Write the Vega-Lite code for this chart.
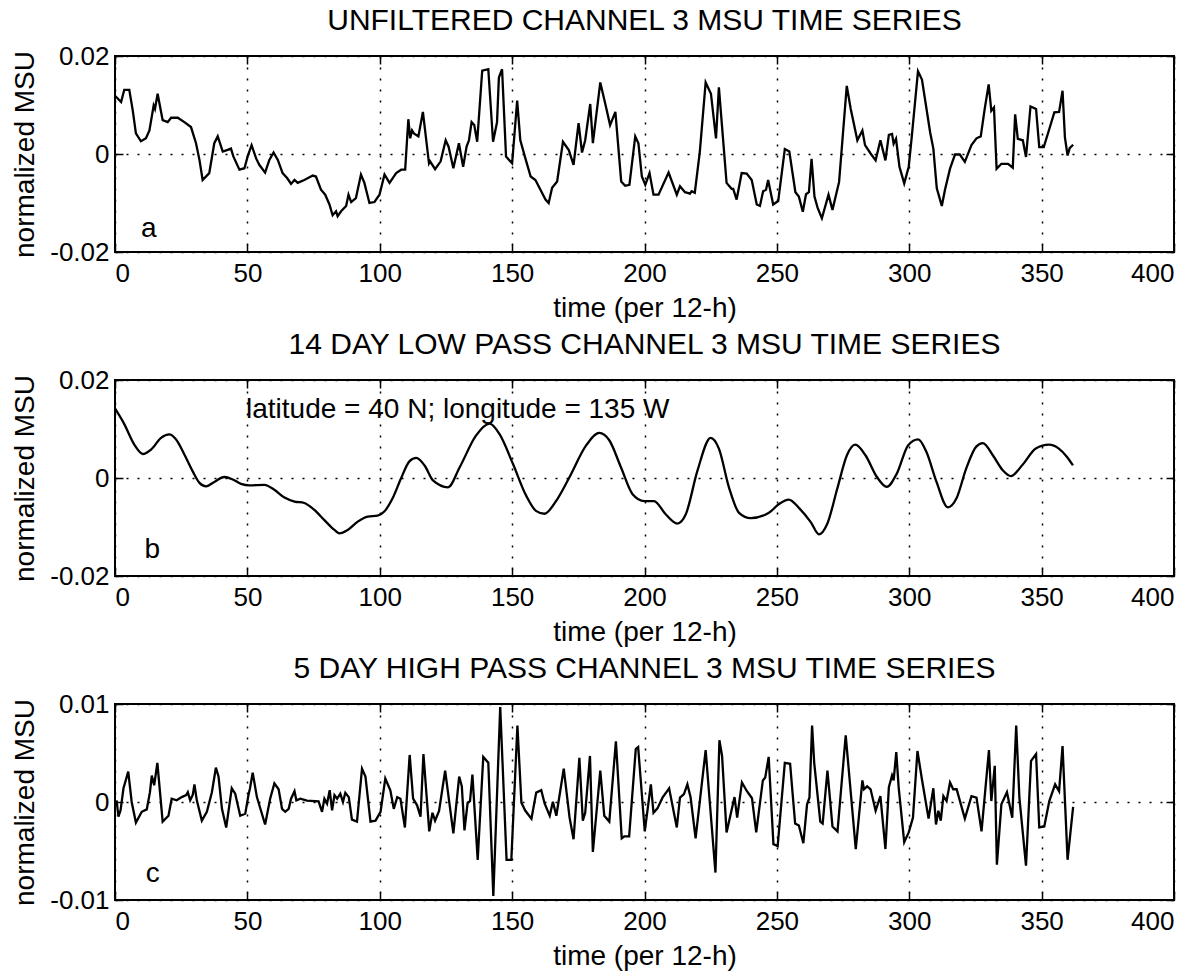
{
"$schema": "https://vega.github.io/schema/vega-lite/v6.json",
"background": "white",
"padding": {"left": 10, "top": 5, "right": 5, "bottom": 5},
"spacing": 128,
"bounds": "flush",
"config": {
  "font": "Liberation Sans",
  "view": {"stroke": "black", "strokeWidth": 2},
  "axis": {"domain": false, "grid": true, "gridColor": "black", "gridDash": [2, 9], "gridWidth": 1.5, "gridOpacity": 1,
           "tickColor": "black", "tickSize": -8, "tickWidth": 1.5, "labelColor": "black", "labelFont": "Liberation Sans",
           "labelFontSize": 26, "titleFont": "Liberation Sans", "titleFontSize": 28, "titleFontWeight": "normal", "titleColor": "black"},
  "axisX": {"labelPadding": 16, "titlePadding": 8},
  "axisY": {"labelPadding": 14, "titlePadding": 10},
  "title": {"font": "Liberation Sans", "fontSize": 30, "fontWeight": "normal", "color": "black", "offset": 7}
},
"datasets": {
"a": [
{"t":0,"v":0.0119},{"t":2.3,"v":0.0106},{"t":3.5,"v":0.0131},{"t":5.4,"v":0.0131},{"t":6.7,"v":0.0089},{"t":7.9,"v":0.0042},{"t":9.8,"v":0.0026},{"t":11.7,"v":0.0032},{"t":13,"v":0.0048},{"t":14.6,"v":0.0099},{"t":15.1,"v":0.0092},{"t":16.1,"v":0.0123},{"t":18,"v":0.0069},{"t":19.9,"v":0.0065},{"t":21.2,"v":0.0074},{"t":23.7,"v":0.0074},{"t":26.2,"v":0.0065},{"t":28.7,"v":0.0055},{"t":30.6,"v":0.0022},{"t":31.9,"v":-0.0012},{"t":33.1,"v":-0.0053},{"t":35.6,"v":-0.0039},{"t":37.5,"v":0.0022},{"t":38.8,"v":0.0036},{"t":40.7,"v":0.0005},{"t":42.3,"v":0.0008},{"t":43.8,"v":0.0011},{"t":44.7,"v":-0.0005},{"t":47,"v":-0.0032},{"t":48.9,"v":-0.0029},{"t":50.1,"v":-0.0005},{"t":51.6,"v":0.0018},{"t":53.3,"v":-0.0009},{"t":54.5,"v":-0.0022},{"t":56.7,"v":-0.0038},{"t":58.3,"v":-0.0012},{"t":59.9,"v":0.0003},{"t":61.5,"v":-0.0012},{"t":63.3,"v":-0.0039},{"t":65,"v":-0.0049},{"t":66.5,"v":-0.0061},{"t":67.8,"v":-0.0053},{"t":69,"v":-0.0059},{"t":71.5,"v":-0.0053},{"t":74.7,"v":-0.0044},{"t":75.9,"v":-0.0046},{"t":77.8,"v":-0.0073},{"t":79.4,"v":-0.0083},{"t":81,"v":-0.0103},{"t":82.2,"v":-0.0125},{"t":83.5,"v":-0.0117},{"t":84.1,"v":-0.0127},{"t":85.4,"v":-0.0117},{"t":87.3,"v":-0.0106},{"t":88.2,"v":-0.0083},{"t":89.2,"v":-0.0098},{"t":91,"v":-0.009},{"t":92.9,"v":-0.0042},{"t":94.2,"v":-0.0059},{"t":96.1,"v":-0.01},{"t":98,"v":-0.0098},{"t":99.9,"v":-0.0083},{"t":101.8,"v":-0.0042},{"t":103.7,"v":-0.0059},{"t":106.2,"v":-0.0039},{"t":108.1,"v":-0.0032},{"t":109.6,"v":-0.0032},{"t":110.8,"v":0.0071},{"t":111.5,"v":0.0032},{"t":112.2,"v":0.0048},{"t":112.9,"v":0.0042},{"t":114.6,"v":0.0036},{"t":116.3,"v":0.0086},{"t":118.6,"v":-0.0019},{"t":119,"v":-0.0015},{"t":120.9,"v":-0.0031},{"t":123,"v":-0.0015},{"t":124.9,"v":0.0028},{"t":126,"v":0.0015},{"t":127.8,"v":-0.0029},{"t":129.9,"v":0.0022},{"t":131.5,"v":-0.0026},{"t":132.8,"v":0.0015},{"t":133.7,"v":0.0028},{"t":134.7,"v":0.0065},{"t":135.7,"v":0.0059},{"t":136.8,"v":0.0025},{"t":138.7,"v":0.017},{"t":141,"v":0.0173},{"t":142.8,"v":0.0025},{"t":144.3,"v":0.0065},{"t":145,"v":0.0156},{"t":146.2,"v":0.0173},{"t":147.7,"v":-0.0005},{"t":150,"v":-0.0019},{"t":151.9,"v":0.0109},{"t":153.1,"v":0.0028},{"t":155,"v":-0.0009},{"t":157,"v":-0.0046},{"t":158.8,"v":-0.0053},{"t":160.7,"v":-0.0073},{"t":162.6,"v":-0.0093},{"t":163.8,"v":-0.01},{"t":165.1,"v":-0.0069},{"t":167,"v":-0.0056},{"t":169.2,"v":0.0025},{"t":171.4,"v":0.0008},{"t":173.2,"v":-0.0022},{"t":175.1,"v":0.0063},{"t":176.4,"v":0.0003},{"t":177.6,"v":0.0028},{"t":179.5,"v":0.0102},{"t":180.5,"v":0.0022},{"t":183.3,"v":0.0146},{"t":185.2,"v":0.0102},{"t":187,"v":0.0059},{"t":189,"v":0.0086},{"t":191.2,"v":-0.0056},{"t":192.7,"v":-0.0065},{"t":194.3,"v":-0.0063},{"t":196.5,"v":0.0036},{"t":197.7,"v":0.0022},{"t":199,"v":-0.0046},{"t":200.3,"v":-0.0063},{"t":201.9,"v":-0.0039},{"t":203.4,"v":-0.0083},{"t":205.3,"v":-0.0083},{"t":209.1,"v":-0.0038},{"t":212.2,"v":-0.0083},{"t":213.4,"v":-0.0066},{"t":215.3,"v":-0.0078},{"t":217.2,"v":-0.0081},{"t":217.8,"v":-0.0076},{"t":219,"v":-0.0079},{"t":220.9,"v":0.0005},{"t":223.1,"v":0.0146},{"t":225.1,"v":0.0123},{"t":227,"v":0.0032},{"t":228.1,"v":0.0136},{"t":231,"v":-0.0059},{"t":232.9,"v":-0.0071},{"t":233.5,"v":-0.0071},{"t":234.8,"v":-0.0093},{"t":236.7,"v":-0.0039},{"t":238.6,"v":-0.004},{"t":240.5,"v":-0.0053},{"t":242.4,"v":-0.0103},{"t":243.6,"v":-0.0106},{"t":244.8,"v":-0.0076},{"t":245.9,"v":-0.0073},{"t":246.7,"v":-0.0053},{"t":248.6,"v":-0.0103},{"t":250.5,"v":-0.0096},{"t":253,"v":0.001},{"t":254.7,"v":0.0005},{"t":257,"v":-0.0078},{"t":258.3,"v":-0.0087},{"t":259.8,"v":-0.0118},{"t":261,"v":-0.0082},{"t":262.1,"v":-0.0078},{"t":263.1,"v":-0.001},{"t":264.2,"v":-0.0087},{"t":265.4,"v":-0.011},{"t":267,"v":-0.0131},{"t":269.5,"v":-0.0083},{"t":271,"v":-0.0114},{"t":273.5,"v":-0.0057},{"t":274.8,"v":0.0031},{"t":276.4,"v":0.0139},{"t":277.9,"v":0.0092},{"t":280.4,"v":0.0028},{"t":282.3,"v":0.0048},{"t":283.3,"v":0.0018},{"t":285.4,"v":0.0001},{"t":287.3,"v":-0.0013},{"t":289.1,"v":0.0028},{"t":291,"v":-0.0013},{"t":292.3,"v":0.0039},{"t":293.5,"v":0.0041},{"t":294.1,"v":0.0021},{"t":295,"v":0.0031},{"t":296.3,"v":-0.0026},{"t":298.1,"v":-0.006},{"t":299.8,"v":-0.0026},{"t":301,"v":0.0038},{"t":303.3,"v":0.0169},{"t":304.8,"v":0.0152},{"t":307.9,"v":0.0044},{"t":309.1,"v":0.0011},{"t":310.4,"v":-0.007},{"t":312.3,"v":-0.0106},{"t":313.5,"v":-0.0073},{"t":315.4,"v":-0.003},{"t":317.3,"v":-0.0001},{"t":319.1,"v":-0.0001},{"t":321,"v":-0.0016},{"t":323.5,"v":0.0018},{"t":325.4,"v":0.0032},{"t":327,"v":0.0036},{"t":328.5,"v":0.0092},{"t":330,"v":0.0142},{"t":331,"v":0.0088},{"t":332,"v":0.0095},{"t":333,"v":-0.003},{"t":334.8,"v":-0.002},{"t":337.3,"v":-0.002},{"t":339.1,"v":-0.0028},{"t":340,"v":0.0081},{"t":341,"v":0.0031},{"t":342.9,"v":0.0028},{"t":344.1,"v":-0.0006},{"t":345.8,"v":0.0097},{"t":347.9,"v":0.0092},{"t":349.1,"v":0.0014},{"t":350.8,"v":0.0014},{"t":352.9,"v":0.0051},{"t":354.8,"v":0.0085},{"t":356.6,"v":0.0086},{"t":357.9,"v":0.0129},{"t":358.8,"v":0.0034},{"t":359.8,"v":-0.0003},{"t":360.6,"v":0.0012},{"t":361.9,"v":0.0019}
],
"b": [
{"t":0,"v":0.0142},{"t":3.5,"v":0.011},{"t":7.3,"v":0.0068},{"t":10.5,"v":0.0049},{"t":13.6,"v":0.0058},{"t":17.4,"v":0.0082},{"t":20.5,"v":0.0089},{"t":23,"v":0.0079},{"t":26.2,"v":0.0048},{"t":29.3,"v":0.0014},{"t":31.9,"v":-0.001},{"t":34.4,"v":-0.0017},{"t":37.5,"v":-0.0008},{"t":41.3,"v":0.0002},{"t":44.5,"v":-0.0003},{"t":47.6,"v":-0.0012},{"t":50.8,"v":-0.0015},{"t":56.4,"v":-0.0014},{"t":60.2,"v":-0.0024},{"t":64,"v":-0.004},{"t":67.8,"v":-0.0048},{"t":71.5,"v":-0.0051},{"t":75.3,"v":-0.0065},{"t":79.1,"v":-0.0086},{"t":82.9,"v":-0.0106},{"t":84.8,"v":-0.0113},{"t":87.9,"v":-0.0106},{"t":91.7,"v":-0.0089},{"t":95.5,"v":-0.0079},{"t":99.2,"v":-0.0077},{"t":101.8,"v":-0.0068},{"t":104.9,"v":-0.0041},{"t":108.1,"v":0.0},{"t":111.2,"v":0.0034},{"t":113.8,"v":0.0041},{"t":117,"v":0.0025},{"t":120.1,"v":-0.0005},{"t":125.8,"v":-0.0019},{"t":130.2,"v":0.0022},{"t":136.4,"v":0.0087},{"t":141.5,"v":0.0111},{"t":145.2,"v":0.009},{"t":150.3,"v":0.0029},{"t":155.3,"v":-0.0036},{"t":159,"v":-0.0067},{"t":162.2,"v":-0.0073},{"t":166.6,"v":-0.0047},{"t":171.6,"v":0.0001},{"t":177.9,"v":0.0066},{"t":182.9,"v":0.0092},{"t":186.7,"v":0.0077},{"t":191.1,"v":0.0022},{"t":195.5,"v":-0.0033},{"t":199.9,"v":-0.0047},{"t":203.6,"v":-0.0047},{"t":208,"v":-0.0074},{"t":212.4,"v":-0.0093},{"t":215.6,"v":-0.0074},{"t":220,"v":0.0015},{"t":225,"v":0.0082},{"t":228.1,"v":0.006},{"t":231.9,"v":-0.0019},{"t":235.7,"v":-0.0071},{"t":240.1,"v":-0.0082},{"t":247,"v":-0.0071},{"t":250.8,"v":-0.0053},{"t":254.5,"v":-0.0044},{"t":258.5,"v":-0.0062},{"t":262.8,"v":-0.009},{"t":265.9,"v":-0.0115},{"t":269,"v":-0.0094},{"t":272.8,"v":-0.0022},{"t":276.5,"v":0.0047},{"t":279.6,"v":0.0068},{"t":283.4,"v":0.0047},{"t":287.8,"v":0.0002},{"t":291.5,"v":-0.0018},{"t":295.3,"v":0.0009},{"t":299.6,"v":0.0067},{"t":303.4,"v":0.0079},{"t":306.5,"v":0.0053},{"t":310.3,"v":-0.0008},{"t":314.6,"v":-0.006},{"t":317.8,"v":-0.0042},{"t":321.5,"v":0.0019},{"t":325.3,"v":0.0064},{"t":327.8,"v":0.0071},{"t":331.5,"v":0.0047},{"t":335.3,"v":0.0016},{"t":338.4,"v":0.0004},{"t":342.8,"v":0.0027},{"t":347.8,"v":0.006},{"t":352.8,"v":0.0068},{"t":356.5,"v":0.006},{"t":359.6,"v":0.0043},{"t":361.8,"v":0.0026}
],
"c": [
{"t":0.6,"v":0.00017},{"t":1.3,"v":-0.0015},{"t":2.1,"v":-0.00085},{"t":3.2,"v":0.0014},{"t":5,"v":0.0031},{"t":6.3,"v":0},{"t":7.9,"v":-0.0021},{"t":10.1,"v":-0.001},{"t":12,"v":-0.00075},{"t":13.2,"v":0.001},{"t":13.9,"v":0.0027},{"t":14.8,"v":0.0017},{"t":16,"v":0.004},{"t":17,"v":0.001},{"t":18,"v":-0.002},{"t":20.2,"v":-0.0014},{"t":21.4,"v":0.00034},{"t":23.3,"v":0.00017},{"t":25.2,"v":0.0005},{"t":26.9,"v":0.0007},{"t":27.5,"v":0.001},{"t":28.4,"v":0.00017},{"t":29.4,"v":0.00075},{"t":30,"v":0.0018},{"t":30.9,"v":0.00017},{"t":32.8,"v":-0.0019},{"t":34.7,"v":-0.001},{"t":36.6,"v":0.001},{"t":38.1,"v":0.0035},{"t":39.1,"v":0.0026},{"t":40.4,"v":-0.0007},{"t":42,"v":-0.0026},{"t":44.1,"v":0.0014},{"t":45.4,"v":0.00085},{"t":47.3,"v":-0.0014},{"t":49.2,"v":-0.0012},{"t":50.4,"v":0.0007},{"t":51,"v":0.0014},{"t":52,"v":0.003},{"t":53.6,"v":0.0005},{"t":56.7,"v":-0.0023},{"t":58.6,"v":0.00034},{"t":60.2,"v":0.0019},{"t":61.8,"v":0.0013},{"t":63.1,"v":-0.0007},{"t":64.3,"v":-0.001},{"t":65.6,"v":-0.0007},{"t":66.5,"v":0.00034},{"t":67.8,"v":0.0011},{"t":68.5,"v":0.00017},{"t":70,"v":0.00034},{"t":72.5,"v":0.00014},{"t":76.9,"v":0.00007},{"t":78.2,"v":-0.001},{"t":79.1,"v":0.00034},{"t":80.1,"v":-0.00017},{"t":81.1,"v":0.0012},{"t":82,"v":-0.00085},{"t":82.9,"v":0.0007},{"t":83.9,"v":0.00034},{"t":85.1,"v":0.00085},{"t":86.1,"v":0},{"t":87,"v":0.00095},{"t":88.3,"v":0.0005},{"t":89.5,"v":-0.0018},{"t":91.4,"v":-0.002},{"t":93.3,"v":0.0034},{"t":94.6,"v":0.0026},{"t":96.5,"v":-0.002},{"t":98.4,"v":-0.0019},{"t":100.3,"v":-0.001},{"t":102.1,"v":0.0024},{"t":104,"v":0.0012},{"t":105.3,"v":-0.0007},{"t":106.6,"v":0.0005},{"t":107.8,"v":0.00034},{"t":109.5,"v":-0.0026},{"t":111.3,"v":0.0048},{"t":112.6,"v":0.00034},{"t":114.1,"v":-0.00034},{"t":115.4,"v":-0.0015},{"t":116.5,"v":0.0049},{"t":118.7,"v":-0.003},{"t":119.9,"v":-0.0011},{"t":120.9,"v":-0.0019},{"t":122.4,"v":-0.0009},{"t":124.7,"v":0.0032},{"t":127.8,"v":-0.0032},{"t":130,"v":0.0026},{"t":131,"v":0.0016},{"t":132,"v":-0.0029},{"t":133.2,"v":-0.00007},{"t":134.1,"v":0.0001},{"t":135,"v":0.0028},{"t":137,"v":-0.0059},{"t":139.1,"v":0.0046},{"t":141,"v":0.004},{"t":142.9,"v":-0.0096},{"t":145.5,"v":0.0097},{"t":147.9,"v":-0.0059},{"t":149.7,"v":-0.0059},{"t":152,"v":0.0078},{"t":153.5,"v":-0.00007},{"t":155,"v":-0.0009},{"t":157.3,"v":-0.0017},{"t":159.1,"v":0.00096},{"t":161,"v":0.0012},{"t":162.3,"v":-0.00017},{"t":164.2,"v":-0.0014},{"t":165.4,"v":0.00003},{"t":166.7,"v":-0.0014},{"t":169.5,"v":0.0034},{"t":171.7,"v":-0.0016},{"t":173.2,"v":-0.0038},{"t":175.4,"v":0.0045},{"t":176.7,"v":-0.0019},{"t":177.6,"v":-0.0011},{"t":179.4,"v":0.0047},{"t":180.5,"v":-0.0051},{"t":183.3,"v":0.0032},{"t":184.8,"v":-0.0014},{"t":186.7,"v":-0.002},{"t":189.2,"v":0.0062},{"t":191.4,"v":-0.0037},{"t":192.4,"v":-0.0035},{"t":194.2,"v":-0.0035},{"t":196.7,"v":0.0054},{"t":197.6,"v":0.0056},{"t":200.1,"v":-0.003},{"t":202.4,"v":0.0018},{"t":203.4,"v":-0.0011},{"t":204.9,"v":-0.00065},{"t":206.8,"v":0.00044},{"t":209.3,"v":0.0014},{"t":212.2,"v":-0.0026},{"t":213.4,"v":0.00044},{"t":214.9,"v":0.0008},{"t":216.2,"v":0.0018},{"t":217.4,"v":0.0005},{"t":219.3,"v":-0.0037},{"t":223.1,"v":0.0053},{"t":224.3,"v":0.0012},{"t":226.8,"v":-0.0072},{"t":228.3,"v":0.0063},{"t":229.3,"v":0.0047},{"t":231,"v":-0.0031},{"t":234,"v":0.0005},{"t":235,"v":-0.0016},{"t":236.8,"v":0.002},{"t":238.7,"v":0.0011},{"t":240.6,"v":0.00038},{"t":242.2,"v":-0.0031},{"t":244.7,"v":0.0022},{"t":245.6,"v":0.0025},{"t":246.9,"v":0.0046},{"t":248.7,"v":-0.0043},{"t":250.3,"v":-0.0045},{"t":253,"v":0.004},{"t":255,"v":0.0039},{"t":256.9,"v":-0.0022},{"t":258.3,"v":-0.0024},{"t":260,"v":-0.0042},{"t":261.4,"v":-0.00024},{"t":262.3,"v":0.00044},{"t":263.3,"v":0.0078},{"t":264.1,"v":0.004},{"t":266.4,"v":-0.002},{"t":267.3,"v":-0.0022},{"t":269.1,"v":0.0032},{"t":271,"v":-0.0025},{"t":272.9,"v":-0.003},{"t":276,"v":0.0068},{"t":279.8,"v":-0.0048},{"t":282.3,"v":0.0022},{"t":282.9,"v":0.0013},{"t":284.1,"v":0.0016},{"t":285.4,"v":0.0013},{"t":287.3,"v":-0.0009},{"t":289.1,"v":0.0006},{"t":291,"v":-0.0048},{"t":292.3,"v":0.0015},{"t":293.5,"v":0.0027},{"t":294.1,"v":0.0022},{"t":295.1,"v":0.0051},{"t":296,"v":0.0015},{"t":298.1,"v":-0.0041},{"t":299.8,"v":-0.0031},{"t":301.4,"v":-0.0016},{"t":303.1,"v":0.0052},{"t":304.8,"v":0.0023},{"t":307.3,"v":-0.0017},{"t":309.1,"v":0.0014},{"t":310.1,"v":-0.0023},{"t":311,"v":-0.0009},{"t":311.9,"v":-0.0019},{"t":312.9,"v":0.0006},{"t":314.1,"v":0.0001},{"t":315.4,"v":0.002},{"t":316.6,"v":0.0013},{"t":317.9,"v":0.0013},{"t":321,"v":-0.0017},{"t":323.5,"v":0.0006},{"t":325.4,"v":0.00044},{"t":327.3,"v":-0.003},{"t":330.1,"v":0.0053},{"t":331,"v":0.0001},{"t":332.3,"v":0.0037},{"t":333.1,"v":-0.0064},{"t":334.8,"v":-0.00024},{"t":336.9,"v":0.001},{"t":338.9,"v":-0.0016},{"t":340.4,"v":0.0078},{"t":341.6,"v":0.00044},{"t":344.1,"v":-0.0065},{"t":346,"v":0.0042},{"t":347.9,"v":0.0049},{"t":349.1,"v":-0.0026},{"t":351,"v":-0.0025},{"t":352.9,"v":0.0001},{"t":355.1,"v":0.0018},{"t":356.6,"v":0.0011},{"t":357.9,"v":0.0057},{"t":359.8,"v":-0.0059},{"t":361.9,"v":-0.0005}
]
},
"vconcat": [
{
  "width": 1059, "height": 196,
  "title": "UNFILTERED CHANNEL 3 MSU TIME SERIES",
  "resolve": {"axis": {"x": "independent", "y": "independent"}},
  "layer": [
    {"data": {"name": "a"}, "mark": {"type": "line", "color": "black", "strokeWidth": 2.3, "clip": true},
     "encoding": {
       "x": {"field": "t", "type": "quantitative", "scale": {"domain": [0, 400], "nice": false, "zero": false},
             "axis": {"values": [0, 50, 100, 150, 200, 250, 300, 350, 400], "title": "time (per 12-h)"}},
       "y": {"field": "v", "type": "quantitative", "scale": {"domain": [-0.02, 0.02], "nice": false},
             "axis": {"values": [-0.02, 0, 0.02], "title": "normalized MSU",
                      "labelExpr": "datum.value == 0 ? '0' : (datum.value < 0 ? '-' : '') + format(abs(datum.value), '.2f')"}}}},
    {"data": {"values": [{"label": "a"}]}, "mark": {"type": "text", "fontSize": 28, "align": "left", "baseline": "alphabetic", "color": "black"},
     "encoding": {"x": {"datum": 9.8, "type": "quantitative", "axis": {"orient": "top", "values": [0, 50, 100, 150, 200, 250, 300, 350, 400], "labels": false, "grid": false, "title": null}},
                  "y": {"datum": -0.017, "type": "quantitative", "axis": {"orient": "right", "values": [-0.02, 0, 0.02], "labels": false, "grid": false, "title": null}},
                  "text": {"field": "label"}}}
  ]
},
{
  "width": 1059, "height": 196,
  "title": "14 DAY LOW PASS CHANNEL 3 MSU TIME SERIES",
  "resolve": {"axis": {"x": "independent", "y": "independent"}},
  "layer": [
    {"data": {"name": "b"}, "mark": {"type": "line", "color": "black", "strokeWidth": 2.3, "interpolate": "monotone", "clip": true},
     "encoding": {
       "x": {"field": "t", "type": "quantitative", "scale": {"domain": [0, 400], "nice": false, "zero": false},
             "axis": {"values": [0, 50, 100, 150, 200, 250, 300, 350, 400], "title": "time (per 12-h)"}},
       "y": {"field": "v", "type": "quantitative", "scale": {"domain": [-0.02, 0.02], "nice": false},
             "axis": {"values": [-0.02, 0, 0.02], "title": "normalized MSU",
                      "labelExpr": "datum.value == 0 ? '0' : (datum.value < 0 ? '-' : '') + format(abs(datum.value), '.2f')"}}}},
    {"data": {"values": [{"label": "b"}]}, "mark": {"type": "text", "fontSize": 28, "align": "left", "baseline": "alphabetic", "color": "black"},
     "encoding": {"x": {"datum": 11.1, "type": "quantitative", "axis": {"orient": "top", "values": [0, 50, 100, 150, 200, 250, 300, 350, 400], "labels": false, "grid": false, "title": null}},
                  "y": {"datum": -0.0164, "type": "quantitative", "axis": {"orient": "right", "values": [-0.02, 0, 0.02], "labels": false, "grid": false, "title": null}},
                  "text": {"field": "label"}}},
    {"data": {"values": [{"label": "latitude = 40 N; longitude = 135 W"}]}, "mark": {"type": "text", "fontSize": 28, "align": "left", "baseline": "alphabetic", "color": "black"},
     "encoding": {"x": {"datum": 49.5, "type": "quantitative", "axis": null}, "y": {"datum": 0.0122, "type": "quantitative", "axis": null}, "text": {"field": "label"}}}
  ]
},
{
  "width": 1059, "height": 196,
  "title": "5 DAY HIGH PASS CHANNEL 3 MSU TIME SERIES",
  "resolve": {"axis": {"x": "independent", "y": "independent"}},
  "layer": [
    {"data": {"name": "c"}, "mark": {"type": "line", "color": "black", "strokeWidth": 2.3, "clip": true},
     "encoding": {
       "x": {"field": "t", "type": "quantitative", "scale": {"domain": [0, 400], "nice": false, "zero": false},
             "axis": {"values": [0, 50, 100, 150, 200, 250, 300, 350, 400], "title": "time (per 12-h)"}},
       "y": {"field": "v", "type": "quantitative", "scale": {"domain": [-0.01, 0.01], "nice": false},
             "axis": {"values": [-0.01, 0, 0.01], "title": "normalized MSU",
                      "labelExpr": "datum.value == 0 ? '0' : (datum.value < 0 ? '-' : '') + format(abs(datum.value), '.2f')"}}}},
    {"data": {"values": [{"label": "c"}]}, "mark": {"type": "text", "fontSize": 28, "align": "left", "baseline": "alphabetic", "color": "black"},
     "encoding": {"x": {"datum": 11.6, "type": "quantitative", "axis": {"orient": "top", "values": [0, 50, 100, 150, 200, 250, 300, 350, 400], "labels": false, "grid": false, "title": null}},
                  "y": {"datum": -0.0082, "type": "quantitative", "axis": {"orient": "right", "values": [-0.01, 0, 0.01], "labels": false, "grid": false, "title": null}},
                  "text": {"field": "label"}}}
  ]
}
]
}
